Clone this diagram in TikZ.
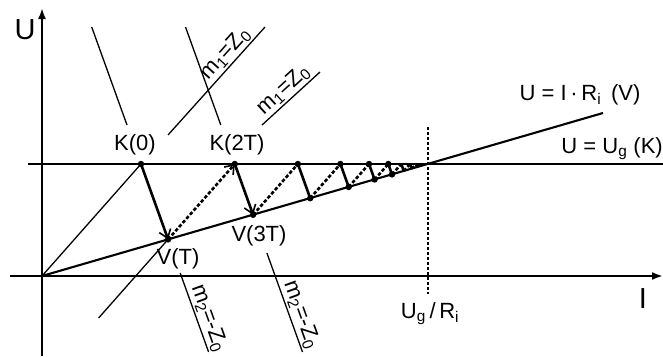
\documentclass[tikz,border=0pt]{standalone}
\usepackage{fontspec}
\setmainfont{Liberation Sans}
\usetikzlibrary{arrows.meta}
\begin{document}
\begin{tikzpicture}[x=1pt,y=-1pt,
  lab/.style={font=\fontsize{22}{24}\selectfont, inner sep=0pt},
  axlab/.style={font=\fontsize{29}{30}\selectfont, inner sep=0pt},
  mlab/.style={font=\fontsize{22}{24}\selectfont, inner sep=1.5pt},
  thinl/.style={line width=1.3pt},
  axisl/.style={line width=2.1pt},
  zig/.style={line width=2.6pt},
  zigd/.style={line width=2.6pt, dash pattern=on 3.5pt off 2pt},
  tip/.style={-{Straight Barb[length=8pt,width=12pt,line width=1.6pt]}},
  axtip/.style={-{Latex[length=11pt,width=8pt]}}
]
\useasboundingbox (0,0) rectangle (663,356);
% axes and base lines
\coordinate (O) at (42,276);
\coordinate (ytop) at (42,8);
\coordinate (ybot) at (42,356);
\coordinate (xl) at (10,276);
\coordinate (xr) at (663,276);
\coordinate (gl) at (28,164);
\coordinate (gr) at (663,164);
\coordinate (Lend) at (603,113);
\coordinate (dtop) at (428,127);
\coordinate (dbot) at (428,294);
\draw[axisl,axtip] (ybot) -- (ytop);
\draw[axisl,axtip] (xl) -- (xr);
\draw[axisl] (gl) -- (gr);
\draw[line width=2.1pt] (O) -- (Lend);
\draw[thinl, dash pattern=on 3pt off 2pt] (dtop) -- (dbot);
% zigzag points
\coordinate (K0) at (141,164);
\coordinate (V1) at (168.1,239.4);
\coordinate (K2) at (234.8,164);
\coordinate (V3) at (253.1,214.8);
\coordinate (K4) at (297.9,164);
\coordinate (V5) at (310.2,198.2);
\coordinate (K6) at (340.4,164);
\coordinate (V7) at (348.7,187.0);
\coordinate (K8) at (369.0,164);
\coordinate (V9) at (374.6,179.5);
\coordinate (K10) at (388.3,164);
\coordinate (V11) at (392.0,174.4);
\coordinate (K12) at (401.3,164);
\coordinate (V13) at (403.8,171.0);
\coordinate (K14) at (410.0,164);
\coordinate (V15) at (411.7,168.7);
\coordinate (K16) at (415.9,164);
\coordinate (V17) at (417.0,167.2);
\coordinate (K18) at (419.7,164);
% thin construction lines
\draw[thinl] (O) -- (K0);
\coordinate (a1) at (98.6,318);
\draw[thinl] (a1) -- (V1);
\coordinate (m1as) at (168,135);
\coordinate (m1ae) at (265,27);
\draw[thinl] (m1as) -- node[mlab, pos=0.68, sloped, above] {m\textsubscript{1}=Z\textsubscript{0}} (m1ae);
\coordinate (m1bs) at (262,125);
\coordinate (m1be) at (320,72);
\draw[thinl] (m1bs) -- node[mlab, pos=0.5, sloped, above] {m\textsubscript{1}=Z\textsubscript{0}} (m1be);
\coordinate (u1s) at (91.7,27);
\coordinate (u1e) at (127,125);
\draw[thinl] (u1s) -- (u1e);
\coordinate (u2s) at (185.5,27);
\coordinate (u2e) at (220.8,125);
\draw[thinl] (u2s) -- (u2e);
\coordinate (l1s) at (180.2,273);
\coordinate (l1e) at (208.6,352);
\draw[thinl] (l1s) -- node[mlab, pos=0.62, sloped, above] {m\textsubscript{2}=-Z\textsubscript{0}} (l1e);
\coordinate (l2s) at (266.9,253);
\coordinate (l2e) at (302.5,352);
\draw[thinl] (l2s) -- node[mlab, pos=0.66, sloped, above] {m\textsubscript{2}=-Z\textsubscript{0}} (l2e);
% zigzag
\draw[zig,tip] (K0) -- (V1);
\draw[zigd,tip] (V1) -- (K2);
\draw[zig,tip] (K2) -- (V3);
\draw[zigd] (V3) -- (K4);
\draw[zig] (K4) -- (V5);
\draw[zigd] (V5) -- (K6);
\draw[zig] (K6) -- (V7);
\draw[zigd] (V7) -- (K8);
\draw[zig] (K8) -- (V9);
\draw[zigd] (V9) -- (K10);
\draw[zig] (K10) -- (V11);
\draw[zigd] (V11) -- (K12);
\draw[zig] (K12) -- (V13);
\draw[zigd] (V13) -- (K14);
\draw[zig] (K14) -- (V15);
\draw[zigd] (V15) -- (K16);
\draw[zig] (K16) -- (V17);
\draw[zigd] (V17) -- (K18);
\foreach \p in {K0,V1,K2,V3,K4,V5,K6,V7,K8,V9,K10,V11}
  \fill (\p) circle (3.2pt);
% labels
\node[axlab] (lU) at (25,30) {U};
\node[axlab] (lI) at (643,299) {I};
\node[lab] (lK0) at (135,145) {K(0)};
\node[lab] (lK2) at (237,145) {K(2T)};
\node[lab] (lV1) at (178,259) {V(T)};
\node[lab] (lV3) at (259,236) {V(3T)};
\node[lab, anchor=base] (lV) at (580,100) {U = I\,·\,R\textsubscript{i}\, (V)};
\node[lab, anchor=base east] (lK) at (663,153) {U = U\textsubscript{g} (K)};
\node[lab, anchor=base] (lUR) at (430,318) {U\textsubscript{g}\,/\,R\textsubscript{i}};
\end{tikzpicture}
\end{document}
